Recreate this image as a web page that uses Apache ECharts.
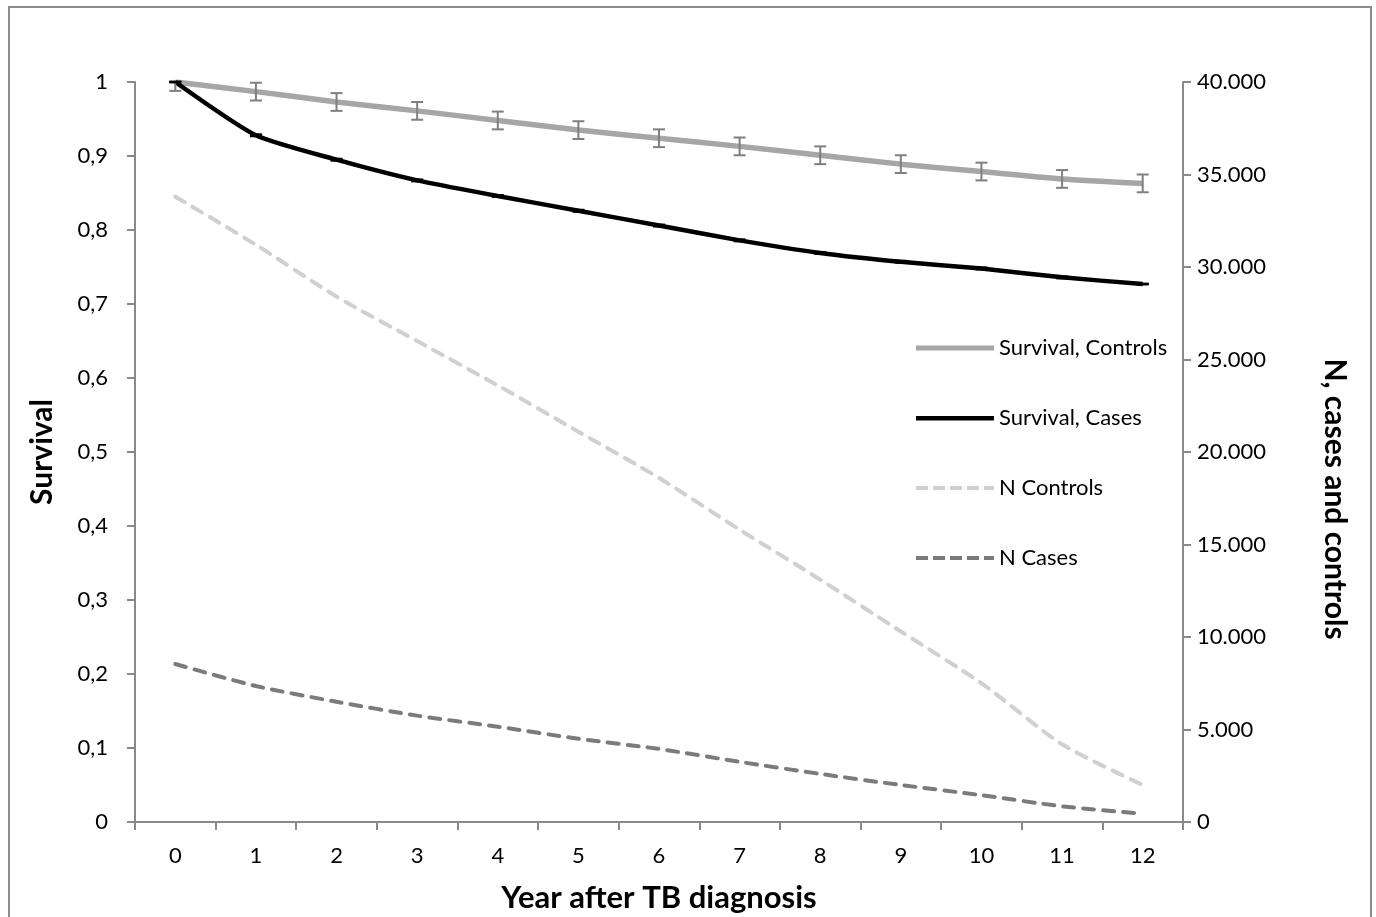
<!DOCTYPE html>
<html>
<head>
<meta charset="utf-8">
<script src="https://cdn.jsdelivr.net/npm/echarts@6/dist/echarts.min.js"></script>
<style>
html,body{margin:0;padding:0;background:#fff;}
#c{width:1376px;height:917px;}
</style>
</head>
<body>
<div id="c"></div>
<script>
const years = ['0','1','2','3','4','5','6','7','8','9','10','11','12'];
const survivalControls = [1.0, 0.987, 0.973, 0.961, 0.948, 0.935, 0.924, 0.913, 0.901, 0.889, 0.879, 0.869, 0.863];
const survivalControlsLow = [0.988, 0.975, 0.961, 0.949, 0.936, 0.923, 0.912, 0.901, 0.889, 0.877, 0.867, 0.857, 0.851];
const survivalControlsHigh = [1.0, 0.999, 0.985, 0.973, 0.960, 0.947, 0.936, 0.925, 0.913, 0.901, 0.891, 0.881, 0.875];
const survivalCases = [1.0, 0.928, 0.895, 0.867, 0.846, 0.826, 0.806, 0.786, 0.769, 0.757, 0.748, 0.736, 0.727];
const survivalCasesLow = [1.0, 0.927, 0.894, 0.866, 0.845, 0.825, 0.805, 0.785, 0.768, 0.756, 0.747, 0.735, 0.727];
const survivalCasesHigh = [1.0, 0.929, 0.896, 0.868, 0.847, 0.827, 0.807, 0.787, 0.770, 0.758, 0.749, 0.737, 0.727];
const nControls = [33800, 31200, 28400, 26000, 23600, 21100, 18600, 15800, 13100, 10300, 7500, 4200, 2000];
const nCases = [8540, 7350, 6500, 5750, 5150, 4500, 3950, 3250, 2600, 2000, 1450, 850, 450];
const leftTicks = {min: 0, max: 1, interval: 0.1};
const rightTicks = {min: 0, max: 40000, interval: 5000};

const FONT = 'Lato, "Open Sans", sans-serif';
const AX = '#898989';

function errData(lo, hi) { return lo.map((v, i) => [i, v, hi[i]]); }
function errRender(color, capHalf, width) {
  return function (params, api) {
    const x = api.value(0);
    const lo = api.coord([x, api.value(1)]);
    const hi = api.coord([x, api.value(2)]);
    const st = {stroke: color, lineWidth: width};
    return {type: 'group', children: [
      {type: 'line', shape: {x1: lo[0], y1: lo[1], x2: hi[0], y2: hi[1]}, style: st},
      {type: 'line', shape: {x1: lo[0] - capHalf, y1: lo[1], x2: lo[0] + capHalf, y2: lo[1]}, style: st},
      {type: 'line', shape: {x1: hi[0] - capHalf, y1: hi[1], x2: hi[0] + capHalf, y2: hi[1]}, style: st}
    ]};
  };
}

// legend icons (bounding box 78x14, thin invisible sliver fixes the box)
const BOX = 'M0,0h0.01v14h-0.01z ';
const iconSolidThick = 'path://' + BOX + 'M0,4.5h78v5h-78z';
const iconSolid = 'path://' + BOX + 'M0,5h78v4.5h-78z';
const iconDash = 'path://' + BOX + 'M0,5h12v4h-12z M17,5h12v4h-12z M34,5h12v4h-12z M51,5h12v4h-12z M68,5h10v4h-10z';

const chart = echarts.init(document.getElementById('c'), null, {renderer: 'canvas'});
chart.setOption({
  animation: false,
  backgroundColor: '#fff',
  textStyle: {fontFamily: FONT},
  graphic: [{type: 'rect', shape: {x: 9, y: 7, width: 1362, height: 930}, style: {fill: 'none', stroke: '#8c8c8c', lineWidth: 2}, z: -1}],
  grid: {left: 135, right: 193, top: 82, bottom: 95, containLabel: false, outerBoundsMode: 'none'},
  legend: {
    orient: 'vertical', left: 911, top: 332, itemGap: 48, itemWidth: 78, itemHeight: 14,
    textStyle: {fontFamily: FONT, fontSize: 22, color: '#000', lineHeight: 22},
    data: [
      {name: 'Survival, Controls', icon: iconSolidThick},
      {name: 'Survival, Cases', icon: iconSolid},
      {name: 'N Controls', icon: iconDash},
      {name: 'N Cases', icon: iconDash}
    ]
  },
  xAxis: {
    type: 'category', data: years, boundaryGap: true,
    name: 'Year after TB diagnosis', nameLocation: 'middle', nameGap: 60,
    nameTextStyle: {fontFamily: FONT, fontSize: 31, fontWeight: 'bold', color: '#000'},
    axisLine: {lineStyle: {color: AX, width: 2}},
    axisTick: {show: true, length: 8, lineStyle: {color: AX, width: 2}, alignWithLabel: false},
    axisLabel: {fontFamily: FONT, fontSize: 22, color: '#000', margin: 23},
    splitLine: {show: false}
  },
  yAxis: [{
    type: 'value', min: leftTicks.min, max: leftTicks.max, interval: leftTicks.interval,
    name: 'Survival', nameLocation: 'middle', nameGap: 78, nameRotate: 90,
    nameTextStyle: {fontFamily: FONT, fontSize: 30, fontWeight: 'bold', color: '#000'},
    axisLine: {show: true, lineStyle: {color: AX, width: 2}},
    axisTick: {show: true, length: 8, lineStyle: {color: AX, width: 2}},
    axisLabel: {fontFamily: FONT, fontSize: 22, color: '#000', margin: 27,
      formatter: v => (Math.round(v * 10) / 10).toString().replace('.', ',')},
    splitLine: {show: false}
  }, {
    type: 'value', position: 'right', min: rightTicks.min, max: rightTicks.max, interval: rightTicks.interval,
    name: 'N, cases and controls', nameLocation: 'middle', nameGap: 137, nameRotate: -90,
    nameTextStyle: {fontFamily: FONT, fontSize: 30, fontWeight: 'bold', color: '#000', padding: [0, 0, 0, 94]},
    axisLine: {show: true, lineStyle: {color: AX, width: 2}},
    axisTick: {show: true, length: 8, lineStyle: {color: AX, width: 2}},
    axisLabel: {fontFamily: FONT, fontSize: 22, color: '#000', margin: 14,
      formatter: v => v === 0 ? '0' : String(v).replace(/\B(?=(\d{3})+(?!\d))/g, '.')},
    splitLine: {show: false}
  }],
  series: [
    {name: 'N Controls', type: 'line', yAxisIndex: 1, data: nControls, smooth: 0.25, symbol: 'none',
      lineStyle: {color: '#d0d0d0', width: 4, type: [11, 9], cap: 'round'}, itemStyle: {color: '#d0d0d0'}, z: 2},
    {name: 'N Cases', type: 'line', yAxisIndex: 1, data: nCases, smooth: 0.25, symbol: 'none',
      lineStyle: {color: '#7b7b7b', width: 4, type: [11, 9], cap: 'round'}, itemStyle: {color: '#7b7b7b'}, z: 2},
    {name: 'Survival, Controls', type: 'line', yAxisIndex: 0, data: survivalControls, smooth: 0.2, symbol: 'none',
      lineStyle: {color: '#a6a6a6', width: 5.5}, itemStyle: {color: '#a6a6a6'}, z: 3},
    {name: 'ctrlErr', type: 'custom', yAxisIndex: 0, data: errData(survivalControlsLow, survivalControlsHigh),
      renderItem: errRender('#7f7f7f', 6, 2), z: 4, silent: true},
    {name: 'Survival, Cases', type: 'line', yAxisIndex: 0, data: survivalCases, smooth: 0.2, symbol: 'none',
      lineStyle: {color: '#000', width: 4.5}, itemStyle: {color: '#000'}, z: 3},
    {name: 'caseErr', type: 'custom', yAxisIndex: 0, data: errData(survivalCasesLow, survivalCasesHigh),
      renderItem: errRender('#000', 6, 2.5), z: 4, silent: true}
  ]
});
</script>
</body>
</html>
